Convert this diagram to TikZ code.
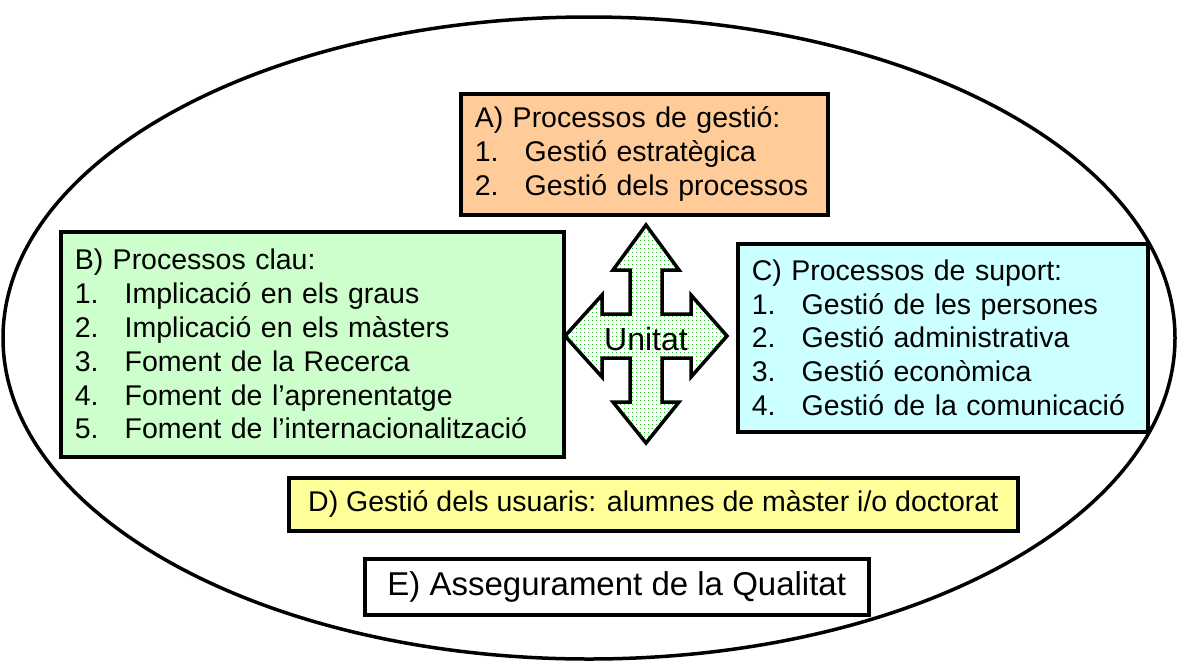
\documentclass[tikz,border=0pt]{standalone}
\usepackage{fontspec}
\setmainfont{Liberation Sans}
\definecolor{fillA}{HTML}{FFCC99}
\definecolor{fillB}{HTML}{CCFFCC}
\definecolor{fillC}{HTML}{CCFFFF}
\definecolor{fillD}{HTML}{FFFF99}
\definecolor{dotgreen}{HTML}{22CC22}
\newcommand{\itm}[2]{\makebox[50pt][l]{#1}#2}
\tikzset{
  procbox/.style={draw=black, line width=3.5pt, anchor=north west, align=left,
    inner xsep=14pt, inner ysep=0pt, font=\fontsize{28.5}{33.8}\selectfont},
  bandbox/.style={draw=black, line width=3.5pt, anchor=north west, align=center,
    inner xsep=0pt, inner ysep=0pt},
  outer/.style={draw=black, line width=3.5pt},
  quadoutline/.style={draw=black, line width=3.5pt, line join=miter}
}
\begin{document}
\begin{tikzpicture}[x=1pt,y=-1pt]
\useasboundingbox (0,0) rectangle (1178,662);
\draw[outer] (589,338) ellipse [x radius=586, y radius=321];

\node[procbox, fill=fillA, text width=339pt, minimum height=121pt] (A) at (459,92)
  {A) Processos de gestió:\\
   \itm{1.}{Gestió estratègica}\\
   \itm{2.}{Gestió dels processos}};

\node[procbox, fill=fillB, text width=475pt, minimum height=225pt] (B) at (59,230)
  {B) Processos clau:\\
   \itm{1.}{Implicació en els graus}\\
   \itm{2.}{Implicació en els màsters}\\
   \itm{3.}{Foment de la Recerca}\\
   \itm{4.}{Foment de l’aprenentatge}\\
   \itm{5.}{Foment de l’internacionalització}};

\node[procbox, fill=fillC, text width=382pt, minimum height=188pt] (C) at (736,242)
  {C) Processos de suport:\\
   \itm{1.}{Gestió de les persones}\\
   \itm{2.}{Gestió administrativa}\\
   \itm{3.}{Gestió econòmica}\\
   \itm{4.}{Gestió de la comunicació}};

\node[bandbox, fill=fillD, minimum width=729pt, minimum height=53pt,
  font=\fontsize{28.5}{33.8}\selectfont] (D) at (287,476)
  {D) Gestió dels usuaris: alumnes de màster i/o doctorat};

\node[bandbox, fill=white, minimum width=504pt, minimum height=56pt,
  font=\fontsize{33}{38}\selectfont] (E) at (363,557)
  {E) Assegurament de la Qualitat};

\def\quadpath{(646,225) -- (679,270) -- (662,270) -- (662,314) -- (691,314) -- (691,295)
  -- (727,336) -- (691,377) -- (691,358) -- (662,358) -- (662,402) -- (679,402)
  -- (646,443) -- (613,402) -- (630,402) -- (630,358) -- (602,358) -- (602,377)
  -- (565,336) -- (602,295) -- (602,314) -- (630,314) -- (630,270) -- (613,270)
  -- cycle}
\fill[white] \quadpath;
\begin{scope}
  \clip \quadpath;
  \foreach \i in {0,...,41} {
    \foreach \j in {0,...,55} {
      \fill[dotgreen] (564+4*\i,224+4*\j) rectangle +(1.3,1.3);
    }
  }
\end{scope}
\draw[quadoutline] \quadpath;
\node[font=\fontsize{32}{36}\selectfont, inner sep=0pt] (U) at (646,339) {Unitat};
\end{tikzpicture}
\end{document}
